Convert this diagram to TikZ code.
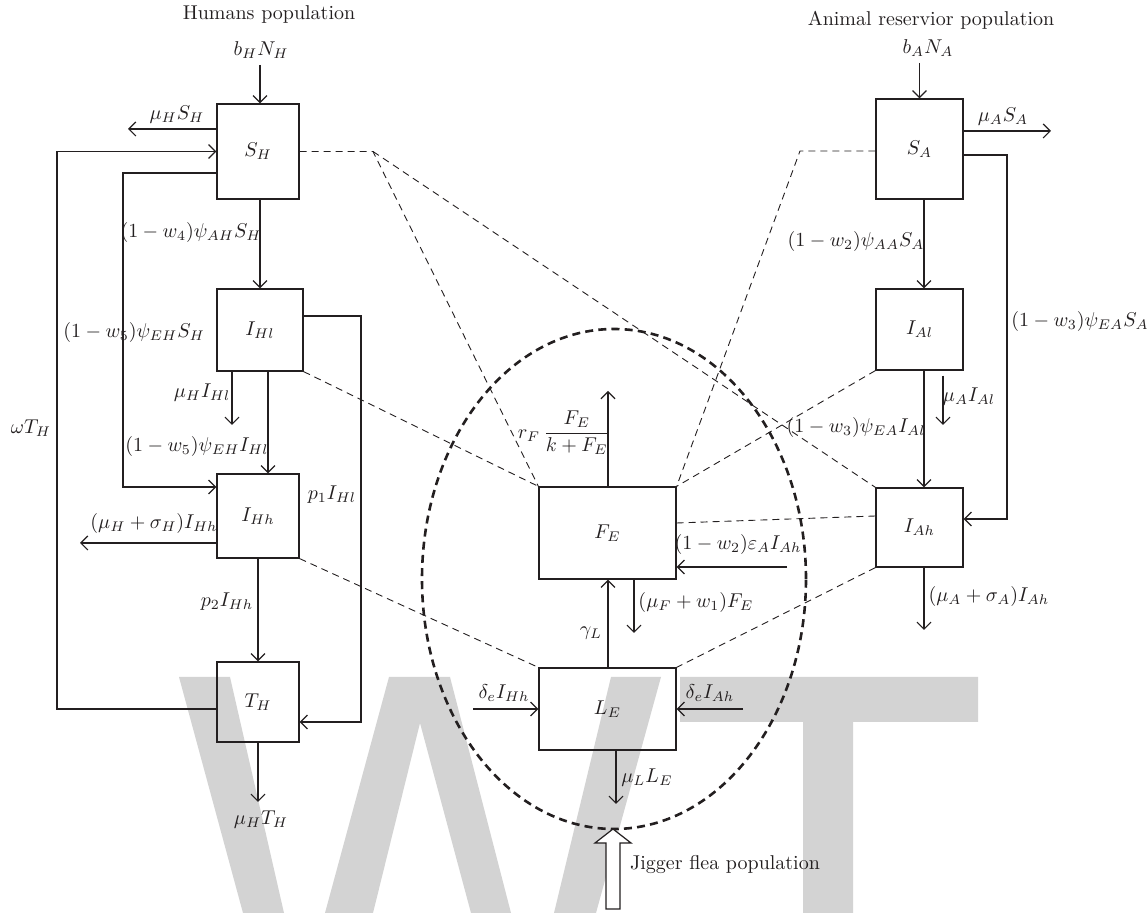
\documentclass[tikz,border=0pt]{standalone}
\usetikzlibrary{arrows.meta,calc}
\definecolor{wm}{RGB}{211,211,211}
\definecolor{ink}{RGB}{35,31,32}
\begin{document}
\begin{tikzpicture}[x=0.5pt,y=-0.5pt,
  box/.style={draw=ink, line width=0.6pt, inner sep=0pt, text=ink},
  arr/.style={draw=ink, line width=0.6pt, -{Straight Barb[length=3.5pt,width=7pt]}},
  ln/.style={draw=ink, line width=0.6pt},
  dl/.style={draw=ink, line width=0.45pt, dash pattern=on 3.5pt off 2.5pt},
  ell/.style={draw=ink, line width=1.3pt, dash pattern=on 4pt off 2.6pt},
  lbl/.style={inner sep=0pt, text=ink}]
\useasboundingbox (0,0) rectangle (1148,913);
% watermark
\fill[wm] (179,677) -- (230,677) -- (284,913) -- (243,913) -- cycle;
\fill[wm] (325,913) -- (389,677) -- (450,677) -- (511,913) -- (471,913) -- (420,723) -- (373,913) -- cycle;
\fill[wm] (611,677) -- (661,677) -- (596,913) -- (554,913) -- cycle;
\fill[wm] (680,677) -- (978,677) -- (978,722) -- (853,722) -- (853,913) -- (803,913) -- (803,722) -- (680,722) -- cycle;

% boxes
\node[box, minimum width=41pt, minimum height=47.5pt] (SH) at (258,151.5) {$S_H$};
\node[box, minimum width=43pt, minimum height=41pt] (IHl) at (260,330) {$I_{Hl}$};
\node[box, minimum width=41pt, minimum height=42pt] (IHh) at (258,516) {$I_{Hh}$};
\node[box, minimum width=41pt, minimum height=40pt] (TH) at (258,702) {$T_H$};
\node[box, minimum width=43.5pt, minimum height=50pt] (SA) at (919.5,149) {$S_A$};
\node[box, minimum width=43.5pt, minimum height=40.5pt] (IAl) at (919.5,329.5) {$I_{Al}$};
\node[box, minimum width=43.5pt, minimum height=39.5pt] (IAh) at (919.5,527.5) {$I_{Ah}$};
\node[box, minimum width=68.5pt, minimum height=46pt] (FE) at (607.5,533) {$F_E$};
\node[box, minimum width=68.5pt, minimum height=41pt] (LE) at (607.5,709) {$L_E$};

% labels
\node[lbl] (humans) at (269,15) {Humans population};
\node[lbl] (bHNH) at (261,50) {$b_HN_H$};
\node[lbl] (lmuSH) at (177,115) {$\mu_HS_H$};
\node[lbl] (lAH) at (191,233) {$(1-w_4)\psi_{AH}S_H$};
\node[lbl] (lEHS) at (134,333) {$(1-w_5)\psi_{EH}S_H$};
\node[lbl] (lmuIHl) at (202,393) {$\mu_HI_{Hl}$};
\node[lbl] (lEHI) at (197,447) {$(1-w_5)\psi_{EH}I_{Hl}$};
\node[lbl] (lomega) at (31,428) {$\omega T_H$};
\node[lbl] (lp1) at (332,495) {$p_1I_{Hl}$};
\node[lbl] (lmuIHh) at (154,524) {$(\mu_H+\sigma_H)I_{Hh}$};
\node[lbl] (lp2) at (227,602) {$p_2I_{Hh}$};
\node[lbl] (lmuTH) at (261,820) {$\mu_HT_H$};

\node[lbl] (animal) at (931,20) {Animal reservior population};
\node[lbl] (bANA) at (928,48) {$b_AN_A$};
\node[lbl] (lmuSA) at (1003,117) {$\mu_AS_A$};
\node[lbl] (lAA) at (856,242) {$(1-w_2)\psi_{AA}S_A$};
\node[lbl] (lEAS) at (1080,322) {$(1-w_3)\psi_{EA}S_A$};
\node[lbl] (lmuIAl) at (969,397) {$\mu_AI_{Al}$};
\node[lbl] (lEAI) at (856,428) {$(1-w_3)\psi_{EA}I_{Al}$};
\node[lbl] (lmuIAh) at (989,597) {$(\mu_A+\sigma_A)I_{Ah}$};

\node[lbl] (lrF) at (564,433) {$\displaystyle r_F\,\frac{F_E}{k+F_E}$};
\node[lbl] (leA) at (738,545) {$(1-w_2)\varepsilon_AI_{Ah}$};
\node[lbl] (lmuFE) at (696,603) {$(\mu_F+w_1)F_E$};
\node[lbl] (lgam) at (591,633) {$\gamma_L$};
\node[lbl] (ldH) at (504,693) {$\delta_eI_{Hh}$};
\node[lbl] (ldA) at (710,693) {$\delta_eI_{Ah}$};
\node[lbl] (lmuLE) at (647,778) {$\mu_LL_E$};
\node[lbl] (ljig) at (725,865) {Jigger flea population};

% human arrows
\draw[arr] ([yshift=-3pt]bHNH.south -| IHl.north) -- (IHl.north |- SH.north);
\coordinate (mSHe) at (128,129);
\draw[arr] (SH.west |- mSHe) -- (mSHe);
\coordinate (wA) at (57,709);
\draw[arr] (TH.west |- wA) -- (wA) |- (SH.west);
\coordinate (vB) at (123,173);
\coordinate (vBb) at (123,487);
\draw[arr] (SH.west |- vB) -- (vB) -- (vBb) -- (IHh.west |- vBb);
\draw[arr] (IHl.north |- SH.south) -- (IHl.north);
\coordinate (pC) at (361,316);
\coordinate (pCb) at (361,722);
\draw[arr] (IHl.east |- pC) -- (pC) -- (pCb) -- (TH.east |- pCb);
\coordinate (mIHl) at (232,425);
\draw[arr] (IHl.south -| mIHl) -- (mIHl);
\coordinate (xIHl) at (268,0);
\draw[arr] (IHl.south -| xIHl) -- (IHh.north -| xIHl);
\coordinate (mIHh) at (80,543);
\draw[arr] (IHh.west |- mIHh) -- (mIHh);
\draw[arr] (IHh.south) -- (TH.north);
\coordinate (mTH) at (258,802);
\draw[arr] (TH.south) -- (mTH);

% animal arrows
\draw[arr] ([yshift=-3pt]bANA.south -| SA.north) -- (SA.north);
\coordinate (mSA) at (1051,131);
\draw[arr] (SA.east |- mSA) -- (mSA);
\coordinate (pD) at (1007,155);
\coordinate (pDb) at (1007,519);
\draw[arr] (SA.east |- pD) -- (pD) -- (pDb) -- (IAh.east |- pDb);
\coordinate (xA) at (924,0);
\draw[arr] (SA.south -| xA) -- (IAl.north -| xA);
\draw[arr] (IAl.south -| xA) -- (IAh.north -| xA);
\coordinate (mIAh) at (924,630);
\draw[arr] (IAh.south -| xA) -- (mIAh);
\coordinate (mIAl) at (943,425);
\draw[arr] ([yshift=-2.5pt]IAl.south -| mIAl) -- (mIAl);

% flea arrows
\coordinate (rF) at (608,391);
\draw[arr] (FE.north -| rF) -- (rF);
\coordinate (eA) at (787,567);
\draw[arr] (eA) -- (FE.east |- eA);
\coordinate (mFE) at (634,633);
\draw[arr] (FE.south -| mFE) -- (mFE);
\draw[arr] (LE.north -| rF) -- (FE.south -| rF);
\coordinate (dH) at (473,709);
\draw[arr] (dH) -- (LE.west);
\coordinate (dA) at (743,709);
\draw[arr] (dA) -- (LE.east);
\coordinate (mLE) at (616,804);
\draw[arr] (LE.south -| mLE) -- (mLE);

% dashed links
\coordinate (dlc) at (373,151.5);
\coordinate (drc) at (800,151);
\draw[dl] (SH.east) -- (dlc) -- (FE.north west);
\draw[dl] (dlc) -- (IAh.north west);
\draw[dl] (IHl.south east) -- (FE.north west);
\draw[dl] (IHh.south east) -- (LE.north west);
\draw[dl] (SA.west |- drc) -- (drc) -- (FE.north east);
\draw[dl] (IAl.south west) -- (FE.north east);
\coordinate (hA) at (0,516);
\coordinate (hF) at (0,523);
\draw[dl] (IAh.west |- hA) -- (FE.east |- hF);
\draw[dl] (IAh.south west) -- (LE.north east);

% ellipse
\draw[ell] (614,579) ellipse [x radius=96pt, y radius=125pt];

% jigger arrow
\coordinate (jig) at (613,829);
\draw[ln, fill=white] (jig) -- ++(18,14) -- ++(-11,0) -- ++(0,66) -- ++(-14,0) -- ++(0,-66) -- ++(-11,0) -- cycle;
\end{tikzpicture}
\end{document}
